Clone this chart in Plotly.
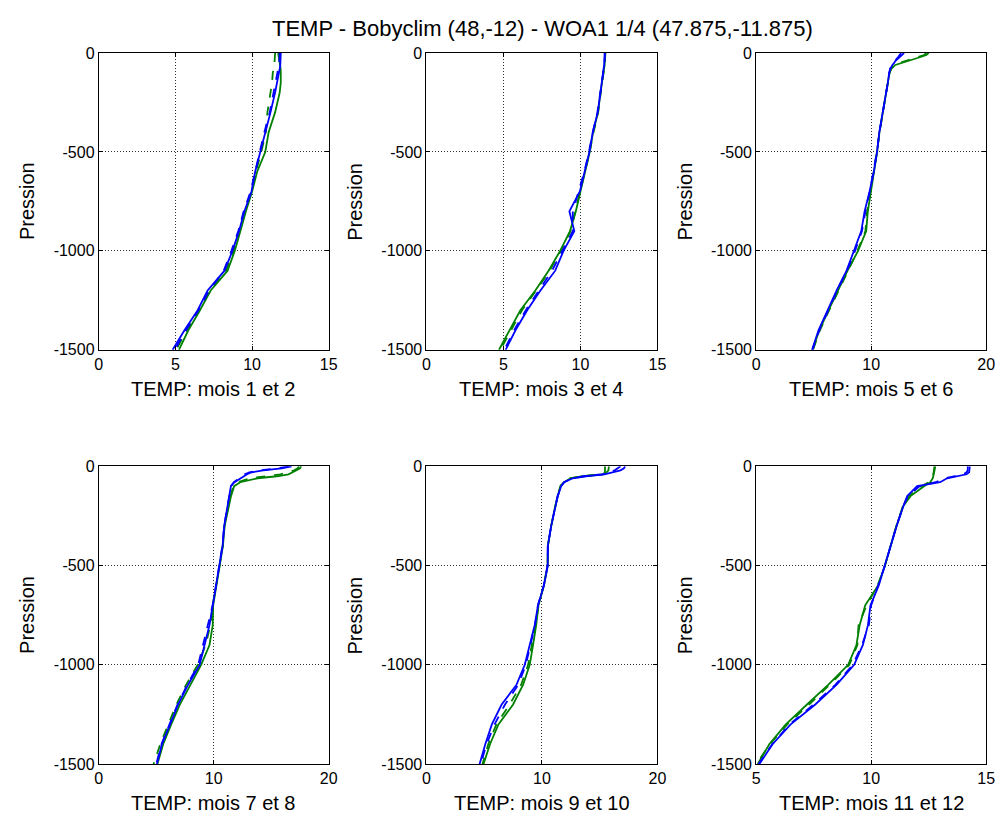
import plotly.graph_objects as go

# Depth levels (m) shared by every profile
depth = [0, 10, 20, 30, 40, 50, 60, 80, 100, 150, 200, 300, 400, 500,
         600, 700, 800, 900, 1000, 1100, 1200, 1300, 1400, 1500]

# Temperature profiles per two-month period: blue = Bobyclim, green = WOA
# (solid = first month, dashed = second month)
p1_blue_a = [11.87, 11.87, 11.86, 11.86, 11.85, 11.85, 11.84, 11.8, 11.75, 11.65, 11.5, 11.2, 10.86, 10.54, 10.2, 9.96, 9.5, 9.15, 8.72, 8.2, 7.1, 6.45, 5.6, 4.82]
p1_blue_b = [11.8, 11.8, 11.8, 11.78, 11.78, 11.77, 11.75, 11.7, 11.65, 11.55, 11.4, 11.15, 10.8, 10.5, 10.2, 9.9, 9.45, 9.1, 8.65, 8.15, 7.2, 6.5, 5.7, 4.95]
p1_green_a = [11.7, 11.72, 11.75, 11.78, 11.8, 11.82, 11.84, 11.86, 11.87, 11.87, 11.8, 11.5, 11.08, 10.86, 10.33, 10.0, 9.6, 9.25, 8.87, 8.4, 7.3, 6.6, 5.85, 5.23]
p1_green_b = [11.5, 11.5, 11.5, 11.48, 11.48, 11.46, 11.45, 11.4, 11.35, 11.3, 11.2, 11.0, 10.9, 10.6, 10.25, 9.95, 9.5, 9.15, 8.8, 8.3, 7.25, 6.55, 5.75, 5.05]

p2_blue_a = [11.57, 11.57, 11.56, 11.56, 11.55, 11.55, 11.54, 11.5, 11.46, 11.4, 11.3, 11.12, 10.8, 10.58, 10.29, 9.96, 9.28, 9.6, 8.9, 8.36, 7.4, 6.54, 5.79, 5.14]
p2_blue_b = [11.6, 11.6, 11.59, 11.58, 11.57, 11.56, 11.55, 11.51, 11.47, 11.4, 11.3, 11.1, 10.8, 10.55, 10.25, 9.9, 9.5, 9.5, 8.8, 8.15, 7.3, 6.45, 5.7, 5.05]
p2_green_a = [11.6, 11.6, 11.6, 11.6, 11.59, 11.58, 11.57, 11.53, 11.5, 11.42, 11.3, 11.14, 10.82, 10.6, 10.3, 9.96, 9.7, 9.32, 8.68, 7.93, 7.07, 6.1, 5.42, 4.71]
p2_green_b = [11.62, 11.62, 11.61, 11.6, 11.6, 11.58, 11.57, 11.53, 11.5, 11.42, 11.32, 11.15, 10.85, 10.6, 10.3, 9.95, 9.68, 9.35, 8.72, 8.0, 7.12, 6.2, 5.5, 4.8]

p3_blue_a = [12.86, 12.65, 12.43, 12.25, 12.1, 12.0, 11.85, 11.66, 11.57, 11.45, 11.29, 11.0, 10.71, 10.51, 10.23, 9.86, 9.43, 9.14, 8.51, 7.86, 7.0, 6.23, 5.43, 4.86]
p3_blue_b = [12.6, 12.5, 12.35, 12.2, 12.05, 11.95, 11.8, 11.65, 11.57, 11.45, 11.3, 11.0, 10.72, 10.5, 10.22, 9.88, 9.5, 9.2, 8.6, 7.9, 7.05, 6.3, 5.5, 4.9]
p3_green_a = [15.0, 14.8, 14.3, 13.7, 13.1, 12.57, 12.1, 11.75, 11.6, 11.45, 11.3, 11.0, 10.72, 10.52, 10.24, 9.94, 9.71, 9.57, 8.86, 7.95, 7.1, 6.3, 5.5, 4.9]
p3_green_b = [14.8, 14.6, 14.1, 13.5, 12.9, 12.45, 12.0, 11.72, 11.6, 11.45, 11.3, 11.02, 10.73, 10.5, 10.22, 9.92, 9.65, 9.5, 8.8, 8.0, 7.15, 6.35, 5.55, 4.95]

p4_blue_a = [16.77, 15.9, 14.3, 13.3, 12.9, 12.6, 12.3, 11.8, 11.49, 11.34, 11.2, 10.91, 10.77, 10.49, 10.2, 9.91, 9.63, 9.2, 8.77, 7.77, 6.9, 6.2, 5.49, 5.06]
p4_blue_b = [16.5, 15.5, 14.0, 13.1, 12.7, 12.45, 12.2, 11.75, 11.5, 11.35, 11.2, 10.9, 10.75, 10.5, 10.2, 9.9, 9.5, 9.1, 8.65, 7.7, 6.85, 6.15, 5.45, 5.0]
p4_green_a = [17.6, 17.5, 17.2, 16.9, 16.5, 15.5, 13.8, 12.3, 11.77, 11.5, 11.3, 10.95, 10.8, 10.5, 10.2, 9.95, 9.91, 9.63, 8.9, 7.95, 7.05, 6.3, 5.6, 5.1]
p4_green_b = [17.4, 17.3, 17.0, 16.5, 15.8, 14.5, 13.2, 12.1, 11.7, 11.45, 11.25, 10.92, 10.78, 10.5, 10.2, 9.9, 9.7, 9.3, 8.6, 7.6, 6.75, 6.05, 5.35, 4.77]

p5_blue_a = [17.2, 17.1, 16.8, 16.1, 15.4, 13.8, 12.66, 11.94, 11.66, 11.37, 11.17, 10.8, 10.51, 10.5, 10.17, 9.66, 9.37, 8.94, 8.51, 7.8, 6.51, 5.66, 5.09, 4.6]
p5_blue_b = [16.8, 16.6, 16.3, 15.8, 15.2, 13.6, 12.6, 11.9, 11.65, 11.35, 11.15, 10.8, 10.5, 10.48, 10.15, 9.65, 9.4, 9.0, 8.6, 7.95, 6.8, 5.9, 5.2, 4.7]
p5_green_a = [15.46, 15.46, 15.46, 15.45, 15.3, 13.5, 12.5, 11.9, 11.6, 11.35, 11.15, 10.8, 10.52, 10.5, 10.17, 9.7, 9.5, 9.23, 8.94, 8.37, 7.5, 6.23, 5.5, 4.94]
p5_green_b = [15.8, 15.8, 15.75, 15.6, 15.2, 13.4, 12.4, 11.85, 11.6, 11.35, 11.15, 10.8, 10.5, 10.48, 10.15, 9.7, 9.45, 9.15, 8.8, 8.2, 7.2, 6.05, 5.35, 4.85]

p6_blue_a = [14.29, 14.28, 14.27, 14.26, 14.15, 13.7, 13.3, 13.0, 12.0, 11.57, 11.4, 11.11, 10.86, 10.6, 10.33, 9.97, 9.86, 9.64, 9.26, 8.5, 7.57, 6.5, 5.71, 5.14]
p6_blue_b = [14.2, 14.2, 14.2, 14.15, 14.0, 13.6, 13.2, 12.8, 12.1, 11.6, 11.4, 11.1, 10.85, 10.6, 10.3, 10.0, 9.9, 9.6, 9.2, 8.45, 7.5, 6.45, 5.7, 5.1]
p6_green_a = [12.79, 12.78, 12.77, 12.74, 12.72, 12.7, 12.68, 12.57, 12.3, 11.71, 11.4, 11.1, 10.85, 10.6, 10.3, 9.74, 9.5, 9.36, 9.0, 8.14, 7.21, 6.29, 5.57, 5.07]
p6_green_b = [12.75, 12.75, 12.74, 12.72, 12.7, 12.68, 12.65, 12.5, 12.2, 11.65, 11.38, 11.1, 10.85, 10.6, 10.28, 9.8, 9.45, 9.4, 9.05, 8.2, 7.3, 6.35, 5.6, 5.0]

panel_profiles = [
    (p1_blue_a, p1_blue_b, p1_green_a, p1_green_b),
    (p2_blue_a, p2_blue_b, p2_green_a, p2_green_b),
    (p3_blue_a, p3_blue_b, p3_green_a, p3_green_b),
    (p4_blue_a, p4_blue_b, p4_green_a, p4_green_b),
    (p5_blue_a, p5_blue_b, p5_green_a, p5_green_b),
    (p6_blue_a, p6_blue_b, p6_green_a, p6_green_b),
]

panel_titles = ["TEMP: mois 1 et 2", "TEMP: mois 3 et 4", "TEMP: mois 5 et 6",
                "TEMP: mois 7 et 8", "TEMP: mois 9 et 10", "TEMP: mois 11 et 12"]
x_ticks = [[0, 5, 10, 15], [0, 5, 10, 15], [0, 10, 20],
           [0, 10, 20], [0, 10, 20], [5, 10, 15]]
y_ticks = [0, -500, -1000, -1500]
y_ticktext = ["0", "-500", "-1000", "-1500"]

title_text = "TEMP - Bobyclim (48,-12) - WOA1 1/4 (47.875,-11.875)"

W, H = 1007, 824
col_px = [(96, 329), (428, 662), (762, 995)]
row_px = [(46, 349), (468, 772)]

BLUE = "#0000FF"
GREEN = "#008000"
FONT = "Liberation Sans, Arial, sans-serif"

fig = go.Figure()
annotations = []

for i in range(6):
    r, c = divmod(i, 3)
    n = i + 1
    xa = "x" if n == 1 else f"x{n}"
    ya = "y" if n == 1 else f"y{n}"
    neg_depth = [-d for d in depth]
    ba, bb, ga, gb = panel_profiles[i]
    for temps, color, dash in ((ga, GREEN, "solid"), (gb, GREEN, "dash"),
                               (ba, BLUE, "solid"), (bb, BLUE, "dash")):
        fig.add_trace(go.Scatter(x=temps, y=neg_depth, mode="lines",
                                 line=dict(color=color, width=1.8, dash=dash),
                                 xaxis=xa, yaxis=ya, showlegend=False,
                                 hoverinfo="skip"))

    x0, x1 = col_px[c]
    y0, y1 = row_px[r]
    xdom = [x0 / W, x1 / W]
    ydom = [1 - y1 / H, 1 - y0 / H]
    xt = x_ticks[i]
    common = dict(showline=True, linecolor="black", linewidth=1, mirror="ticks",
                  ticks="inside", ticklen=4, tickcolor="black",
                  showgrid=True, gridcolor="#333333", gridwidth=1,
                  griddash="1px,2px",
                  zeroline=False, tickfont=dict(family=FONT, size=16, color="black"))
    fig.layout[f"xaxis{'' if n == 1 else n}"] = dict(
        domain=xdom, anchor=ya, range=[xt[0], xt[-1]], tickvals=xt,
        ticktext=[str(v) for v in xt], **common)
    fig.layout[f"yaxis{'' if n == 1 else n}"] = dict(
        domain=ydom, anchor=xa, range=[-1500, 0], tickvals=y_ticks,
        ticktext=y_ticktext, **common)

    annotations.append(dict(text=panel_titles[i], xref="paper", yref="paper",
                            x=(x0 + x1) / 2 / W, y=1 - (y1 + 40) / H,
                            xanchor="center", yanchor="middle", showarrow=False,
                            font=dict(family=FONT, size=20, color="black")))
    annotations.append(dict(text="Pression", xref="paper", yref="paper",
                            x=(x0 - 72) / W, y=1 - (y0 + y1) / 2 / H,
                            xanchor="center", yanchor="middle", textangle=-90,
                            showarrow=False,
                            font=dict(family=FONT, size=20, color="black")))

annotations.append(dict(text=title_text, xref="paper", yref="paper",
                        x=545.5 / W, y=1 - 21 / H, xanchor="center",
                        yanchor="middle", showarrow=False,
                        font=dict(family=FONT, size=22, color="black")))

fig.update_layout(width=W, height=H, margin=dict(l=0, r=0, t=0, b=0),
                  paper_bgcolor="white", plot_bgcolor="white",
                  annotations=annotations, showlegend=False)

fig.write_html("out.html")
